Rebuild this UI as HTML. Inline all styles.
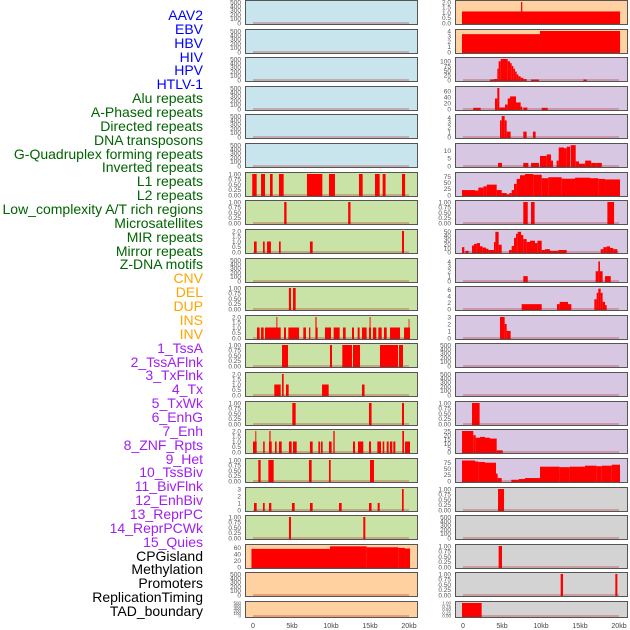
<!DOCTYPE html>
<html><head><meta charset="utf-8">
<style>
html,body{margin:0;padding:0;background:#fff;}
#wrap{position:relative;width:630px;height:630px;overflow:hidden;font-family:"Liberation Sans",sans-serif;}
.lab{position:absolute;right:427px;font-size:14px;line-height:14px;white-space:nowrap;}
</style></head>
<body>
<div id="wrap">
<svg id="chart" width="630" height="630" style="position:absolute;left:0;top:0"></svg>
</div>
<script>
const trackNames = ["AAV2","EBV","HBV","HIV","HPV","HTLV-1","Alu repeats","A-Phased repeats","Directed repeats","DNA transposons","G-Quadruplex forming repeats","Inverted repeats","L1 repeats","L2 repeats","Low_complexity A/T rich regions","Microsatellites","MIR repeats","Mirror repeats","Z-DNA motifs","CNV","DEL","DUP","INS","INV","1_TssA","2_TssAFlnk","3_TxFlnk","4_Tx","5_TxWk","6_EnhG","7_Enh","8_ZNF_Rpts","9_Het","10_TssBiv","11_BivFlnk","12_EnhBiv","13_ReprPC","14_ReprPCWk","15_Quies","CPGisland","Methylation","Promoters","ReplicationTiming","TAD_boundary"];
const trackGroups = [6,13,5,15,5];
const groupColors = ["#0000ff","#006400","#ffa500","#a020f0","#000000"];

const xTicks = [0,5,10,15,20];
const xTickLabels = ["0","5kb","10kb","15kb","20kb"];

const T500=["0","100","200","300","400","500"];
const T1=["0.00","0.25","0.50","0.75","1.00"];
const T2=["0.0","0.5","1.0","1.5","2.0"];
const T3=["0","1","2","3"];
const T4=["0","1","2","3","4"];
const T60=["0","20","40","60"];
const T75=["0","25","50","75"];
const T100=["0","25","50","75","100"];
const T10=["0","5","10"];
const T50=["0","10","20","30","40","50"];
const T6=["0","2","4","6"];
const T25=["0","5","10","15","20","25"];

const L_L1=[[-0.1,0.47,1],[1.03,1.54,1],[2.18,2.52,1],[3.33,3.93,1],[6.92,8.89,1],[9.74,10.51,1],[13.59,14.06,1],[15.64,16.24,1],[16.62,17.0,1],[19.1,19.5,1]];
const L_L2=[[4.0,4.3,1],[12.2,12.5,1]];
const L_Low=[[0.13,0.47,1],[1.28,1.5,1],[1.8,2.3,1],[3.33,3.55,1],[7.3,7.65,1],[19.1,19.36,2]];
const L_Mirror=[[4.6,4.87,1],[5.13,5.47,1]];
const L_Ins=[[0.51,0.85,1],[1.03,1.37,1],[1.54,3.55,1],[3.97,4.23,1],[4.53,5.9,1],[6.45,6.79,1],[7.18,7.35,1],[8.03,8.29,1],[9.23,10.0,1],[10.34,11.11,1],[11.54,11.88,1],[12.69,12.95,1],[13.42,13.67,1],[13.97,14.57,1],[14.87,15.13,1],[15.38,15.81,1],[16.07,16.5,1],[16.79,17.14,1],[17.56,18.85,1],[19.36,20.13,1],[3.0,3.12,2],[8.0,8.15,2],[14.95,15.07,2],[19.95,20.05,1.8]];
const L_TssA=[[3.72,4.49,1],[9.87,10.13,1],[11.45,12.69,1],[12.82,13.72,1],[16.28,18.59,1],[18.72,19.23,1]];
const L_TxFlnk=[[2.73,3.55,1],[3.72,3.93,2],[4.23,4.57,1],[8.85,9.7,1],[13.97,14.3,1]];
const L_EnhG=[[5.04,5.47,1],[14.87,15.2,1],[19.1,19.36,1]];
const L_Enh=[[0,0.47,1],[0.3,0.42,2],[1.3,1.5,1],[2.05,2.4,1],[2.1,2.25,2],[2.82,3.03,1],[3.33,3.68,1],[4.61,4.96,1],[5.13,5.6,1],[7.3,7.65,1],[8.38,8.6,1],[8.72,8.93,1],[9.74,10.08,1],[10.3,10.47,2],[12.82,13.08,1],[13.46,14.14,1],[14.87,15.13,1],[15.94,16.41,1],[16.62,16.83,1],[17.14,17.39,1],[17.56,17.86,1],[17.99,18.25,1],[19.14,19.36,2],[19.49,20.13,1]];
const L_Het=[[0.68,0.98,1],[1.97,2.65,1],[7.18,7.52,1],[9.74,9.96,1],[15.0,15.51,1]];
const L_BivFlnk=[[0.13,0.47,1],[1.28,1.5,1],[2.05,2.35,1],[4.99,5.34,1],[7.3,7.65,1],[11.03,11.37,1],[14.87,15.2,1],[15.98,16.24,1],[19.1,19.32,3]];
const L_ReprPC=[[4.61,4.87,1],[14.14,14.4,1]];
const L_CpG=[[-0.2,9.87,57],[9.87,14.57,65],[14.57,18.63,62],[18.63,19.49,60],[19.49,20.13,58]];

const R_AAV2=[[-0.13,20.13,1.1],[7.44,7.6,2]];
const R_EBV=[[-0.13,9.87,3.4],[9.87,20.13,4]];
const R_HIV=[[3.46,3.9,3],[3.9,4.4,5],[4.4,4.57,60],[4.57,4.83,100],[4.83,5.73,112],[5.73,6.03,100],[6.03,6.24,90],[6.24,6.45,75],[6.45,6.67,60],[6.67,6.88,45],[6.88,7.09,30],[7.09,7.39,20],[7.39,7.73,12],[7.73,8.16,5],[8.72,9.74,3],[15.44,15.87,3]];
const R_Alu=[[1.32,2.26,4],[4.1,4.4,35],[4.4,4.66,70],[4.66,5.39,5],[5.39,5.73,15],[5.73,6.03,35],[6.03,6.8,42],[6.8,7.39,22],[7.39,7.6,8],[7.73,8.25,5],[10.09,10.86,4]];
const R_APhased=[[4.74,4.96,3.4],[4.96,5.34,4.3],[5.34,5.6,3.4],[5.6,6.11,1.1],[7.73,8.16,1.1],[8.97,9.31,1.1]];
const R_Directed=[[4.49,5.0,2],[7.73,8.38,2],[8.72,9.74,2],[9.87,10.73,6.5],[10.73,11.28,7.5],[11.28,11.54,3.5],[12.0,12.27,3.5],[12.27,12.95,12],[12.95,13.29,11.5],[13.29,13.72,12.5],[13.8,14.45,13.5],[14.45,14.87,3],[14.87,15.4,1.5],[15.35,15.66,1.5],[15.66,16.43,3.5],[16.43,17.07,2],[17.07,17.8,2]];
const R_DNA=[[-0.13,1.54,20],[1.54,1.97,18],[1.97,2.61,30],[2.61,3.04,35],[3.04,4.32,42],[4.32,4.96,20],[4.96,5.6,8],[5.6,5.94,3],[5.94,6.24,8],[6.24,6.54,20],[6.54,6.88,45],[6.88,7.31,65],[7.31,7.95,80],[7.95,9.02,85],[9.02,10.09,82],[10.09,10.94,68],[10.94,12.65,72],[12.65,14.36,66],[14.36,16.28,70],[16.28,17.35,68],[17.35,18.21,65],[18.21,20.13,63]];
const R_GQ=[[7.73,8.3,1],[8.72,9.18,1],[18.51,19.37,1]];
const R_Inv=[[-0.13,0.17,12],[0.3,0.73,3],[1.15,1.41,16],[1.41,1.75,20],[1.75,2.18,22],[2.18,2.52,14],[2.52,2.95,11],[2.95,3.25,8],[3.25,3.97,5],[3.97,4.15,25],[4.15,4.57,50],[4.57,4.96,18],[5.9,6.24,5],[6.24,6.54,15],[6.54,6.8,35],[6.8,7.01,45],[7.01,7.44,50],[7.44,7.73,42],[7.73,8.16,32],[8.16,8.59,25],[8.59,9.23,28],[9.23,9.53,22],[9.53,10.09,28],[10.09,10.51,5],[10.51,11.15,7],[11.15,12.22,3],[12.22,13.29,5],[17.65,17.99,7],[17.99,18.42,12],[18.42,18.85,14],[18.85,19.27,10],[19.27,19.79,7]];
const R_L1=[[7.73,8.3,1],[17.01,17.35,2],[17.35,17.56,4],[17.56,17.9,2],[18.21,18.94,1]];
const R_L2=[[7.52,10.09,1.5],[12.05,12.39,1.5],[12.39,13.46,2.2],[13.46,13.89,1.5],[16.84,17.14,3],[17.14,17.35,5],[17.35,17.65,6.3],[17.65,17.9,5],[17.9,18.21,2.2],[18.21,18.42,1.2]];
const R_Low=[[4.74,5.34,3],[5.34,5.6,2],[5.6,6.11,1]];
const R_MIR=[[1.15,2.13,1]];
const R_Mirror=[[-0.13,1.32,25],[1.32,1.62,20],[1.62,2.18,17],[2.18,2.82,18],[2.82,3.46,17],[3.46,4.32,16],[4.32,5.09,2]];
const R_ZDNA=[[-0.13,1.54,83],[1.54,1.97,79],[1.97,2.82,77],[2.82,4.23,74],[4.23,4.44,30],[4.44,4.96,12],[6.2,7.14,5],[7.14,7.95,8],[7.95,9.87,12],[9.87,12.39,58],[12.39,13.67,56],[13.67,15.64,58],[15.64,17.14,62],[17.14,17.78,60],[17.78,19.06,62],[19.06,20.13,66]];
const R_CNV=[[4.49,5.26,1]];
const R_DUP=[[4.57,5.0,1]];
const R_INS=[[12.52,12.82,1],[19.53,19.79,1]];
const R_INV=[[-0.13,2.39,1]];

const BLUE="#c8e4ec",GREEN="#c9e2a5",ORANGE="#ffd0a0",PURPLE="#d7c7e3",GREY="#d3d3d3";
const leftPanels=[
 {n:"aav2",b:[],t:T500,m:500,c:BLUE},{n:"ebv",b:[],t:T500,m:500,c:BLUE},{n:"hbv",b:[],t:T500,m:500,c:BLUE},
 {n:"hiv",b:[],t:T500,m:500,c:BLUE},{n:"hpv",b:[],t:T500,m:500,c:BLUE},{n:"htlv",b:[],t:T500,m:500,c:BLUE},
 {n:"l1",b:L_L1,t:T1,m:1,c:GREEN},{n:"l2",b:L_L2,t:T1,m:1,c:GREEN},{n:"low",b:L_Low,t:T2,m:2,c:GREEN},
 {n:"empty9",b:[],t:T500,m:500,c:GREEN},{n:"mirror",b:L_Mirror,t:T1,m:1,c:GREEN},{n:"ins",b:L_Ins,t:T2,m:2,c:GREEN},
 {n:"tssa",b:L_TssA,t:T1,m:1,c:GREEN},{n:"txflnk",b:L_TxFlnk,t:T2,m:2,c:GREEN},{n:"enhg",b:L_EnhG,t:T1,m:1,c:GREEN},
 {n:"enh",b:L_Enh,t:T2,m:2,c:GREEN},{n:"het",b:L_Het,t:T1,m:1,c:GREEN},{n:"bivflnk",b:L_BivFlnk,t:T3,m:3,c:GREEN},
 {n:"reprpc",b:L_ReprPC,t:T1,m:1,c:GREEN},{n:"cpg",b:L_CpG,t:T60,m:66,c:ORANGE},
 {n:"promoters",b:[],t:T500,m:500,c:ORANGE},{n:"tad",b:[],t:T500,m:500,c:ORANGE}];
const rightPanels=[
 {n:"aav2",b:R_AAV2,t:T2,m:2,c:ORANGE},{n:"ebv",b:R_EBV,t:T4,m:4,c:ORANGE},{n:"hiv",b:R_HIV,t:T100,m:112,c:PURPLE},
 {n:"alu",b:R_Alu,t:T60,m:70,c:PURPLE},{n:"aphased",b:R_APhased,t:T4,m:4.3,c:PURPLE},{n:"directed",b:R_Directed,t:T10,m:13.6,c:PURPLE},
 {n:"dna",b:R_DNA,t:T75,m:85,c:PURPLE},{n:"gq",b:R_GQ,t:T1,m:1,c:PURPLE},{n:"inv",b:R_Inv,t:T50,m:52,c:PURPLE},
 {n:"l1",b:R_L1,t:T4,m:4.3,c:PURPLE},{n:"l2",b:R_L2,t:T6,m:6.5,c:PURPLE},{n:"low",b:R_Low,t:T3,m:3,c:PURPLE},
 {n:"empty12",b:[],t:T500,m:500,c:PURPLE},{n:"empty13",b:[],t:T500,m:500,c:PURPLE},{n:"mir",b:R_MIR,t:T1,m:1,c:PURPLE},
 {n:"mirror",b:R_Mirror,t:T25,m:25,c:PURPLE},{n:"zdna",b:R_ZDNA,t:T75,m:85,c:PURPLE},{n:"cnv",b:R_CNV,t:T1,m:1,c:GREY},
 {n:"empty18",b:[],t:T500,m:500,c:GREY},{n:"dup",b:R_DUP,t:T1,m:1,c:GREY},{n:"ins",b:R_INS,t:T1,m:1,c:GREY},
 {n:"inv",b:R_INV,t:T1,m:1,c:GREY}];

const NS="http://www.w3.org/2000/svg";
const svg=document.getElementById('chart');
function mk(tag,attrs,parent){const e=document.createElementNS(NS,tag);for(const k in attrs)e.setAttribute(k,attrs[k]);(parent||svg).appendChild(e);return e;}
const PITCH=28.62, PW=172, KBPX=7.8;
function panelTop(i){return Math.round(i*PITCH);}
function panelH(i){return i===21?16:24;}

function drawColumn(panels,x0,side){
  const xs=kb=>x0+8+kb*KBPX;
  panels.forEach((p,i)=>{
    const top=panelTop(i)+0.5,h=panelH(i);
    const g=mk('g',{});
    
    
    const bg=mk('rect',{x:x0+0.5,y:top,width:PW,height:h,fill:p.c},g);
    
    
    const y0=top+h-1.5, y1=top+1.5;
    const ys=v=>y0-(v/p.m)*(y0-y1);
    p.b.forEach(d=>{
      const r=mk('rect',{x:xs(d[0]),y:ys(d[2]),width:Math.max(0.8,xs(d[1])-xs(d[0])),height:y0-ys(d[2])+1,fill:'#ff0000'},g);
      
      
    });
    const bl=mk('line',{x1:xs(0),x2:xs(20),y1:y0,y2:y0,stroke:'rgba(170,30,30,0.45)','stroke-width':1.2},g);
    
    
    const fr=mk('rect',{x:x0+0.5,y:top,width:PW,height:h,fill:'none',stroke:'#555','stroke-width':1},g);
    
    
    const fs=i===21?4.5:6.5;
    p.t.forEach(lab=>{
      const v=parseFloat(lab);
      const t=mk('text',{x:x0-4,y:ys(v)+fs*0.36,'font-size':fs,'text-anchor':'end',fill:'#555','font-family':'Liberation Sans, sans-serif'},g);
      t.textContent=lab;
      
      
    });
  });
  xTicks.forEach((k,j)=>{
    const t=mk('text',{x:xs(k),y:628,'font-size':7,'text-anchor':'middle',fill:'#444','font-family':'Liberation Sans, sans-serif'});
    t.textContent=xTickLabels[j];
    
    
  });
}
drawColumn(leftPanels,245,'left');
drawColumn(rightPanels,455,'right');

const wrap=document.getElementById('wrap');
let idx=0;
trackGroups.forEach((cnt,gi)=>{
  for(let k=0;k<cnt;k++){
    const d=document.createElement('div');
    d.className='lab';
    d.style.top=(15+idx*13.86-7)+'px';
    d.style.color=groupColors[gi];
    d.textContent=trackNames[idx];
    
    
    wrap.appendChild(d);
    idx++;
  }
});
</script>
</body></html>
